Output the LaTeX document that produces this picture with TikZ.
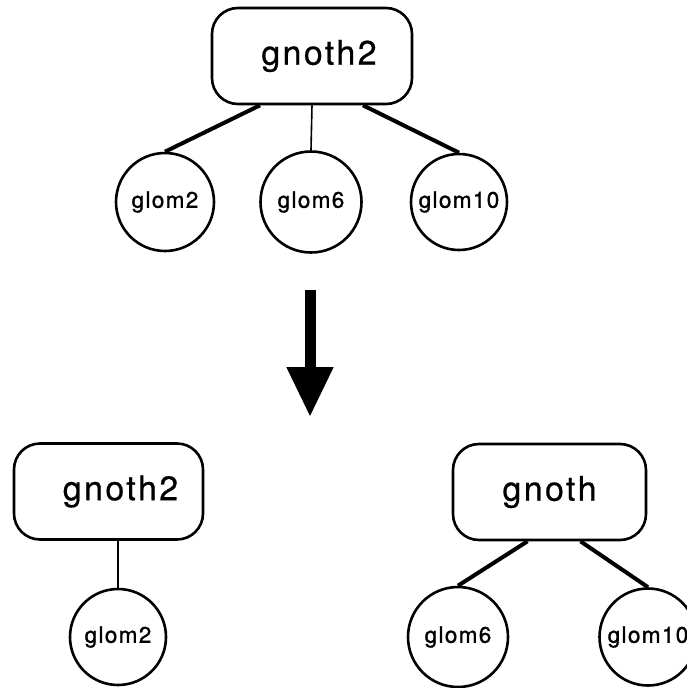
\documentclass[tikz,border=0pt]{standalone}
\usepackage{fontspec}
\usetikzlibrary{arrows.meta}
\newfontfamily\biglab[LetterSpace=7,FakeBold=0.6]{TeX Gyre Heros}
\newfontfamily\smalllab[LetterSpace=6,FakeBold=1.2]{TeX Gyre Heros}
\tikzset{
  gbox/.style={draw, line width=2.6pt, rounded corners=26pt, inner sep=0pt,
    minimum height=96pt, font=\biglab\fontsize{34}{40}\selectfont},
  gcirc/.style={draw, circle, line width=2.6pt, inner sep=0pt, minimum size=98pt,
    font=\smalllab\fontsize{22.5}{26}\selectfont},
  thickedge/.style={line width=4pt},
  thinedge/.style={line width=1.6pt},
}
\begin{document}
\begin{tikzpicture}[x=1pt,y=-1pt]
\useasboundingbox (0,0) rectangle (686,688);
% top tree
\node[gbox, minimum width=200pt] (top) at (312,56) {\hspace{14pt}gnoth2};
\node[gcirc] (tg2) at (165,202) {glom2};
\node[gcirc, minimum size=101pt] (tg6) at (311,202) {glom6};
\node[gcirc, minimum size=96pt] (tg10) at (459,202) {glom10};
\draw[thickedge] ([xshift=-52pt]top.south) -- (tg2.north);
\draw[thinedge] (top.south) -- (tg6.north);
\draw[thickedge] ([xshift=51pt]top.south) -- (tg10.north);
% arrow
\coordinate (a1) at (310,290);
\coordinate (a2) at (310,417);
\draw[line width=11pt, -{Triangle[width=44pt 0,length=50pt 0]}] (a1) -- (a2);
% bottom left tree
\node[gbox, minimum width=189pt] (bl) at (108.5,491.5) {\hspace{24pt}gnoth2};
\node[gcirc, minimum size=96pt] (bg2) at (118,637) {glom2};
\draw[thinedge] (bl.south -| bg2.north) -- (bg2.north);
% bottom right tree
\node[gbox, minimum width=193pt] (br) at (549.5,492) {gnoth};
\node[gcirc, minimum size=100pt] (bg6) at (458,637) {glom6};
\node[gcirc, minimum size=97pt] (bg10) at (648,637) {glom10\hspace{10pt}};
\draw[thickedge] ([xshift=-22pt]br.south) -- (bg6.north);
\draw[thickedge] ([xshift=31pt]br.south) -- (bg10.north);
\end{tikzpicture}
\end{document}
